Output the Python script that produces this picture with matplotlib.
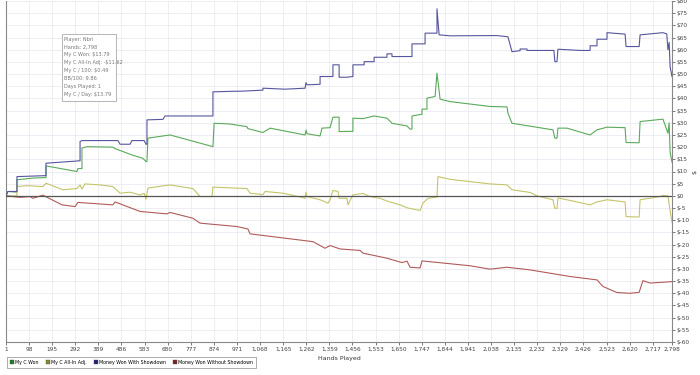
import numpy as np
import matplotlib.pyplot as plt
from matplotlib.lines import Line2D

# hands / dollar values (step points repeated on purpose)
won_hands = [1, 9, 47, 47, 114, 169, 169, 299, 303, 320, 320, 341, 450, 459, 530, 576, 589, 593,
             597, 690, 870, 875, 942, 1013, 1017, 1080, 1110, 1257, 1261, 1265, 1320, 1328, 1362,
             1374, 1400, 1400, 1458, 1458, 1500, 1547, 1601, 1622, 1685, 1698, 1706, 1706, 1748,
             1748, 1769, 1769, 1803, 1811, 1824, 1866, 2034, 2105, 2109, 2126, 2298, 2306, 2315,
             2319, 2357, 2454, 2483, 2525, 2601, 2605, 2660, 2664, 2760, 2781, 2786, 2790, 2798]
won_vals = [0, 1.8, 1.5, 6.6, 7.3, 7.5, 12.3, 10.0, 11.2, 11.2, 19.6, 20.2, 20.0, 19.4, 16.8, 15.4,
            14.1, 14.1, 23.7, 25.0, 20.2, 29.8, 29.5, 28.4, 27.6, 26.0, 27.8, 25.0, 27.0, 25.5, 24.6,
            27.8, 28.0, 32.3, 32.3, 26.4, 26.5, 31.9, 31.7, 32.8, 31.9, 29.8, 28.7, 27.4, 27.4, 32.8,
            33.5, 35.6, 35.6, 40.1, 40.8, 50.4, 39.7, 38.7, 36.7, 36.5, 34.0, 29.8, 27.1, 23.7, 23.7,
            27.8, 27.8, 25.0, 27.1, 28.2, 28.0, 21.9, 21.8, 30.5, 31.5, 25.7, 30.0, 18.0, 13.8]

allin_hands = [1, 47, 47, 89, 156, 169, 240, 299, 312, 320, 333, 396, 450, 480, 522, 564, 581, 589,
               597, 690, 786, 816, 866, 870, 1013, 1026, 1080, 1089, 1164, 1206, 1257, 1261, 1265,
               1320, 1353, 1362, 1374, 1395, 1400, 1433, 1437, 1458, 1500, 1530, 1572, 1606, 1656,
               1689, 1740, 1752, 1773, 1811, 1815, 1866, 2034, 2105, 2126, 2202, 2231, 2298, 2306,
               2315, 2319, 2357, 2454, 2483, 2525, 2601, 2605, 2660, 2664, 2748, 2760, 2781, 2790, 2798]
allin_vals = [0, 0, 3.8, 4.2, 3.8, 5.2, 2.5, 3.0, 4.5, 2.8, 4.9, 4.5, 3.8, 1.1, 1.5, 0.4, 1.0, -1.4,
              3.2, 4.5, 3.0, -0.3, -0.3, 3.6, 3.0, 1.1, 0.5, 1.8, 1.1, 0.2, -1.0, 1.5, -0.3, -1.6,
              -3.0, -1.6, 2.2, 1.8, -1.0, -1.0, -3.7, 0.4, 1.0, -0.3, -1.0, -2.3, -3.7, -5.0, -6.0,
              -3.0, -1.0, -0.5, 7.9, 6.8, 4.9, 4.5, 2.5, 1.4, 0.0, -1.6, -5.1, -5.1, -0.9, -1.6,
              -3.7, -2.5, -1.6, -2.5, -8.5, -8.7, -1.6, -0.3, 0.2, 0.0, -6.0, -11.0]

sd_hands = [1, 9, 47, 47, 169, 169, 312, 312, 320, 471, 480, 522, 530, 581, 589, 593, 593, 660, 669,
            870, 870, 942, 996, 1080, 1080, 1173, 1257, 1261, 1265, 1320, 1320, 1374, 1374, 1400,
            1400, 1433, 1458, 1458, 1505, 1505, 1547, 1547, 1601, 1601, 1622, 1622, 1706, 1706,
            1761, 1761, 1811, 1811, 1820, 1866, 2063, 2109, 2126, 2160, 2160, 2189, 2189, 2302,
            2306, 2315, 2319, 2412, 2454, 2454, 2483, 2483, 2525, 2525, 2601, 2605, 2660, 2664,
            2760, 2776, 2781, 2786, 2790, 2798]
sd_vals = [0, 1.8, 1.8, 7.9, 8.3, 13.4, 14.4, 22.3, 22.7, 22.7, 21.2, 21.2, 22.7, 22.7, 21.2, 21.2,
           31.2, 31.4, 32.8, 32.8, 42.7, 42.9, 43.0, 43.4, 44.2, 43.8, 44.2, 46.5, 45.6, 45.8, 49.0,
           49.0, 53.8, 53.8, 48.7, 48.7, 49.0, 53.8, 53.8, 55.1, 55.1, 56.9, 56.9, 58.3, 58.3, 57.2,
           57.2, 62.4, 62.4, 66.8, 66.8, 76.8, 66.1, 65.7, 65.8, 65.3, 59.2, 59.6, 60.3, 60.3, 59.7,
           59.7, 55.1, 55.1, 60.2, 59.7, 59.7, 61.6, 61.6, 64.3, 64.3, 67.0, 66.4, 61.3, 61.3, 66.1,
           67.0, 66.5, 60.0, 63.0, 53.0, 49.0]

nsd_hands = [1, 60, 102, 114, 156, 236, 291, 303, 450, 459, 564, 677, 690, 786, 816, 971, 1017, 1026,
             1290, 1341, 1362, 1404, 1488, 1500, 1601, 1664, 1685, 1698, 1740, 1748, 1950, 2034,
             2105, 2202, 2369, 2483, 2508, 2567, 2622, 2660, 2676, 2706, 2798]
nsd_vals = [0, -0.6, -0.3, -1.0, 0.3, -3.7, -4.4, -2.7, -3.7, -2.5, -6.4, -7.4, -6.8, -9.2, -11.2,
            -12.6, -13.6, -15.6, -18.8, -21.5, -20.4, -21.8, -22.4, -23.5, -25.6, -27.4, -26.8,
            -29.3, -29.6, -26.7, -28.7, -30.1, -29.3, -30.4, -33.1, -34.5, -37.2, -39.7, -40.0,
            -39.6, -34.8, -35.8, -35.2]

x_ticks = list(range(1, 2798, 97)) + [2798]
stats = ["Player: Nbri", "Hands: 2,798", "My C Won: $13.79", "My C All-In Adj: -$11.62",
         "My C / 100: $0.49", "BB/100: 9.86", "Days Played: 1", "My C / Day: $13.79"]

fig = plt.figure(figsize=(7, 3.75), dpi=100)
ax = fig.add_axes([6 / 700, 33 / 375, 666 / 700, 341 / 375])

ax.plot(won_hands, won_vals, color="#5aaa5a", lw=0.8, zorder=3)
ax.plot(allin_hands, allin_vals, color="#c4c46a", lw=0.8, zorder=3)
ax.plot(nsd_hands, nsd_vals, color="#b25a5a", lw=0.8, zorder=3)
ax.plot(sd_hands, sd_vals, color="#56569e", lw=0.8, zorder=4)
ax.axhline(0, color="#555555", lw=0.9, zorder=5)

ax.set_xlim(1, 2798)
ax.set_ylim(-60, 80)
ax.set_xticks(x_ticks)
ax.set_xticklabels(["{:,}".format(t) for t in x_ticks])
yt = np.arange(-60, 81, 5)
ax.set_yticks(yt)
ax.set_yticklabels(["${}".format(v) for v in yt])
ax.yaxis.tick_right()
ax.yaxis.set_label_position("right")
ax.set_ylabel("$", fontsize=4.5, color="#333333", labelpad=2)
ax.set_xlabel("Hands Played", fontsize=4.5, color="#333333", labelpad=3)
ax.tick_params(labelsize=4.2, colors="#444444", length=2, width=0.5, pad=1.5)
ax.grid(True, color="#e6e6ee", lw=0.5, zorder=0)
ax.spines["top"].set_visible(False)
for s in ["left", "right", "bottom"]:
    ax.spines[s].set_color("#888888")
    ax.spines[s].set_linewidth(0.8)

# stats box
fig.patches.append(plt.Rectangle((62 / 700, 1 - 101 / 375), 54 / 700, 67 / 375,
                                 transform=fig.transFigure, facecolor="white",
                                 edgecolor="#aaaaaa", lw=0.6, zorder=10))
for i, line in enumerate(stats):
    fig.text(64 / 700, 1 - (39 + i * 7.9) / 375, line, fontsize=3.6, color="#777777",
             va="center", ha="left", zorder=11)

handles = [Line2D([], [], ls="", marker="s", markersize=3, color=c, markeredgecolor="#555555",
                  markeredgewidth=0.3) for c in ["#1f7a1f", "#8a8a2a", "#1f1f7a", "#7a1f1f"]]
labels = ["My C Won", "My C All-In Adj.", "Money Won With Showdown", "Money Won Without Showdown"]
leg = fig.legend(handles, labels, loc="lower left", bbox_to_anchor=(5 / 700, 5 / 375), ncol=4,
                 fontsize=3.4, frameon=True, fancybox=False, handlelength=0.7, handletextpad=0.3,
                 columnspacing=1.6, borderpad=0.6)
leg.get_frame().set_edgecolor("#888888")
leg.get_frame().set_linewidth(0.6)

fig.savefig("out.png", dpi=100)
